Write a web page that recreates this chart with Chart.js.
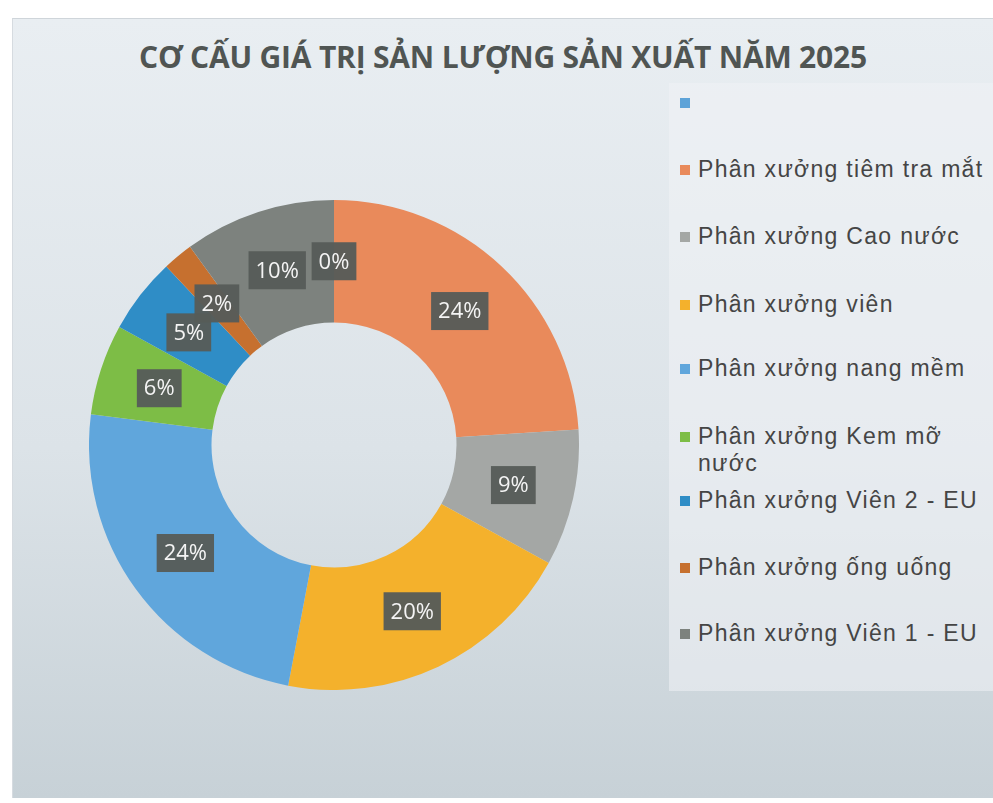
<!doctype html>
<html>
  <head>
    <meta charset="utf-8" />
    <title>Cơ cấu giá trị sản lượng sản xuất năm 2025</title>
    <script src="https://cdn.jsdelivr.net/npm/chart.js@4"></script>
    <style>
      body { margin: 0; background: #ffffff; font-family: "Liberation Sans", Arial, sans-serif; }
      #khung {
        position: absolute; left: 12px; top: 18px; width: 981px; height: 779px;
        background: linear-gradient(180deg, #e9eef2 0%, #dce3e8 55%, #c7d1d7 100%);
        border-top: 1px solid #cfd5da; border-left: 1px solid #d6dbe0;
      }
      #tieude {
        position: absolute; left: 0; top: 17px; width: 980px; text-align: center;
        font-family: "Open Sans", sans-serif; font-weight: 700; font-size: 30px;
        color: #505553; letter-spacing: -0.2px;
      }
      #hop-chu-giai {
        position: absolute; left: 656px; top: 64px; width: 325px; height: 608px;
        background: rgba(240, 243, 245, 0.55);
      }
      #chu-giai { position: absolute; left: 667px; top: 58px; width: 320px; }
      .muc { position: absolute; left: 0; font-size: 23px; color: #454545; line-height: 27px; letter-spacing: 1.3px; }
      .muc span.o { position: absolute; left: 0; top: 9px; width: 10px; height: 10px; }
      .muc span.t { display: block; padding-left: 18px; width: 300px; white-space: normal; }
      #vung { position: absolute; left: 76px; top: 181px; width: 490px; height: 490px; }
    </style>
  </head>
  <body>
    <div id="khung">
      <div id="tieude">CƠ CẤU GIÁ TRỊ SẢN LƯỢNG SẢN XUẤT NĂM 2025</div>
      <div id="hop-chu-giai"></div>
      <div id="chu-giai"></div>
      <div id="vung"><canvas id="bieudo"></canvas></div>
    </div>
    <script>
      // du lieu doc tu hinh (ty trong %)
      const phanXuong = [
        "",
        "Phân xưởng tiêm tra mắt",
        "Phân xưởng Cao nước",
        "Phân xưởng viên",
        "Phân xưởng nang mềm",
        "Phân xưởng Kem mỡ nước",
        "Phân xưởng Viên 2 - EU",
        "Phân xưởng ống uống",
        "Phân xưởng Viên 1 - EU",
      ];
      const tyTrong = [0, 24, 9, 20, 24, 6, 5, 2, 10];
      const mau = ["#5ea3d8", "#e98a5b", "#a4a7a5", "#f4b12c", "#60a6dc", "#7dbd46", "#2f8dc6", "#c6702f", "#7d827e"];
      // vi tri dong chu giai (y, px trong khung)
      const dongChuGiai = [12, 79, 146, 214, 278, 346, 410, 477, 543];

      const nhanPhanTram = {
        id: "nhanPhanTram",
        afterDatasetsDraw(chart) {
          const ctx = chart.ctx;
          const meta = chart.getDatasetMeta(0);
          ctx.save();
          ctx.font = "22px 'Open Sans', sans-serif";
          ctx.textAlign = "center";
          ctx.textBaseline = "middle";
          meta.data.forEach((arc, i) => {
            const p = arc.getCenterPoint();
            const txt = tyTrong[i] + "%";
            const w = ctx.measureText(txt).width + 14;
            const h = 38;
            ctx.fillStyle = "rgba(86, 92, 88, 0.96)";
            ctx.fillRect(p.x - w / 2, p.y - h / 2, w, h);
            ctx.fillStyle = "#f4f4f4";
            ctx.fillText(txt, p.x, p.y + 1);
          });
          ctx.restore();
        },
      };

      const grafico = new Chart(document.getElementById("bieudo"), {
        type: "doughnut",
        data: {
          labels: phanXuong,
          datasets: [{ data: tyTrong, backgroundColor: mau, borderWidth: 0 }],
        },
        options: {
          responsive: true,
          maintainAspectRatio: false,
          animation: false,
          cutout: "50%",
          layout: { padding: 0 },
          plugins: { legend: { display: false }, tooltip: { enabled: false } },
        },
        plugins: [nhanPhanTram],
      });

      // chu giai tu du lieu cua bieu do
      const cg = document.getElementById("chu-giai");
      grafico.data.labels.forEach((ten, i) => {
        const d = document.createElement("div");
        d.className = "muc";
        d.style.top = dongChuGiai[i] + "px";
        const o = document.createElement("span");
        o.className = "o";
        o.style.background = mau[i];
        const t = document.createElement("span");
        t.className = "t";
        t.textContent = ten || "\u00a0";
        if (i === 5) t.style.width = "260px";
        d.appendChild(o);
        d.appendChild(t);
        cg.appendChild(d);
      });
    </script>
  </body>
</html>
